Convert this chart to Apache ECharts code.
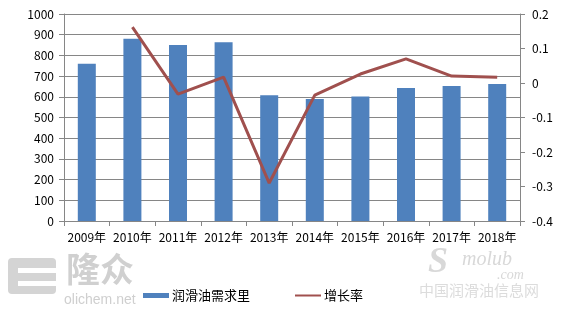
<!DOCTYPE html>
<html><head><meta charset="utf-8">
<script src="https://cdn.jsdelivr.net/npm/echarts@6/dist/echarts.min.js"></script>
<style>html,body{margin:0;padding:0;background:#fff}#c{width:562px;height:312px}</style>
</head><body><div id="c"></div>
<script>
var categories = ['2009年','2010年','2011年','2012年','2013年','2014年','2015年','2016年','2017年','2018年'];
var demand = [760, 880, 850, 863, 608, 589, 602, 642, 652, 662];
var growth = [null, 0.162, -0.032, 0.017, -0.29, -0.035, 0.026, 0.07, 0.02, 0.017];
var leftTicks = [0, 1000, 100];
var rightTicks = [-0.4, 0.2, 0.1];

var font = '"Noto Sans CJK SC", "Liberation Sans", sans-serif';
var chart = echarts.init(document.getElementById('c'), null, {renderer: 'canvas'});
chart.setOption({
  animation: false,
  backgroundColor: '#fff',
  textStyle: {fontFamily: font},
  grid: {left: 64, right: 42, top: 14, bottom: 91},
  legend: {
    top: 289, left: 143, padding: 0, itemGap: 44, itemWidth: 26, itemHeight: 5,
    textStyle: {fontSize: 13, color: '#000', fontFamily: font, padding: [0,0,0,-2]},
    data: [
      {name: '润滑油需求里', icon: 'rect'},
      {name: '增长率', itemStyle: {color: '#A0504E', opacity: 0}, lineStyle: {color: '#A0504E', width: 2}}
    ]
  },
  xAxis: {
    type: 'category', data: categories,
    axisLine: {lineStyle: {color: '#868686'}},
    axisTick: {show: true, length: 5, lineStyle: {color: '#868686'}},
    axisLabel: {color: '#000', fontSize: 12, margin: 10, interval: 0}
  },
  yAxis: [{
    type: 'value', min: leftTicks[0], max: leftTicks[1], interval: leftTicks[2],
    axisLine: {show: true, lineStyle: {color: '#868686'}},
    axisTick: {show: true, length: 5, lineStyle: {color: '#868686'}},
    axisLabel: {color: '#000', fontSize: 12, margin: 10, formatter: function(v){ return String(v); }},
    splitLine: {lineStyle: {color: '#868686', width: 1}}
  }, {
    type: 'value', min: rightTicks[0], max: rightTicks[1], interval: rightTicks[2],
    position: 'right',
    axisLine: {show: true, lineStyle: {color: '#868686'}},
    axisTick: {show: true, length: 5, lineStyle: {color: '#868686'}},
    axisLabel: {color: '#000', fontSize: 12, margin: 12, formatter: function(v){ return String(Math.round(v*10)/10); }},
    splitLine: {show: false}
  }],
  graphic: [
    {type: 'rect', left: 8, top: 258, shape: {width: 48, height: 36, r: 4}, style: {fill: '#d4d4d4'}, z: -1},
    {type: 'rect', left: 18, top: 268, shape: {width: 38, height: 5}, style: {fill: '#fff'}, z: -1},
    {type: 'rect', left: 18, top: 281, shape: {width: 38, height: 5}, style: {fill: '#fff'}, z: -1},
    {type: 'text', left: 66, top: 252, style: {text: '隆众', font: 'bold 34px "Noto Sans CJK SC"', fill: '#d0d0d0'}, z: -1},
    {type: 'text', left: 64, top: 293, style: {text: 'olichem.net', font: '14px "Liberation Sans"', fill: '#cfcfcf'}, z: -1},
    {type: 'text', left: 428, top: 245, style: {text: 'S', font: 'italic bold 36px "Liberation Serif"', fill: '#d8d8d8'}, z: -1},
    {type: 'text', left: 462, top: 250, style: {text: 'molub', font: 'italic 20px "Liberation Serif"', fill: '#d8d8d8'}, z: -1},
    {type: 'text', left: 497, top: 268, style: {text: '.com', font: 'italic 14px "Liberation Serif"', fill: '#d8d8d8'}, z: -1},
    {type: 'text', left: 419, top: 283, style: {text: '中国润滑油信息网', font: '15px "Noto Sans CJK SC"', fill: '#dcdcdc'}, z: -1}
  ],
  series: [{
    name: '润滑油需求里', type: 'bar', data: demand, barWidth: 18,
    itemStyle: {color: '#4F81BD'}
  }, {
    name: '增长率', type: 'line', yAxisIndex: 1, data: growth,
    symbol: 'none', lineStyle: {color: '#A0504E', width: 3},
    itemStyle: {color: '#A0504E'}
  }]
});
</script></body></html>
